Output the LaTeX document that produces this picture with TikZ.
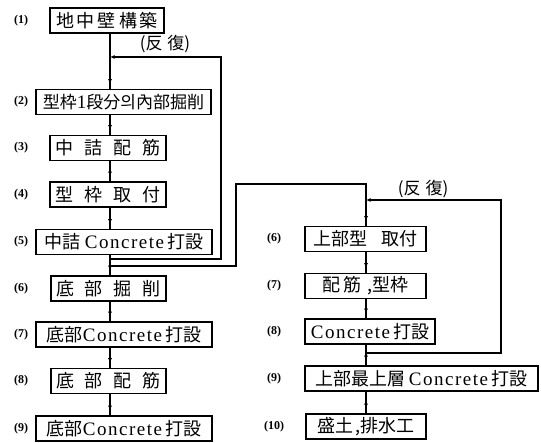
\documentclass[tikz,border=0pt]{standalone}
\usepackage{fontspec}
\setmainfont{Liberation Serif}
\newfontfamily\cjk{Noto Sans CJK JP}
\newfontfamily\latfont[LetterSpace=8]{Liberation Serif}
\newcommand\latn[1]{{\latfont\fontsize{19}{19}\selectfont #1}}
\usetikzlibrary{arrows.meta,decorations.markings}
\tikzset{
  box/.style={draw, line width=1.5pt, minimum height=25pt, inner sep=1pt,
              font=\cjk\fontsize{18}{18}\selectfont, anchor=center},
  lbl/.style={font=\bfseries\fontsize{12}{12}\selectfont},
  rep/.style={font=\cjk\fontsize{17}{17}\selectfont},
  conn/.style={line width=1.2pt},
  tipend/.style={postaction={decorate}, decoration={markings,
      mark=at position -5pt with {\arrow{Latex[length=4.5pt,width=4pt]}}}},
  tipl/.style={-{Latex[length=4.5pt,width=4pt]}}
}
\begin{document}
\begin{tikzpicture}[x=1pt,y=-1pt]
\useasboundingbox (0,0) rectangle (541,443);
% left column
\node[box, minimum width=114pt] (b1) at (107,20.5) {地\hspace{3pt}中\hspace{3pt}壁\hspace{3pt}構\hspace{3pt}築};
\node[box, minimum width=175pt, font=\cjk\fontsize{17}{17}\selectfont] (b2) at (123.5,102) {型枠{\latn{1}}段分의內部掘削};
\node[box, minimum width=116pt] (b3) at (108,148) {中\hspace{11pt}詰\hspace{11pt}配\hspace{11pt}筋};
\node[box, minimum width=116pt] (b4) at (108,194.5) {型\hspace{11pt}枠\hspace{11pt}取\hspace{11pt}付};
\node[box, minimum width=176pt] (b5) at (124,242) {中詰\hspace{4pt}\latn{Concrete}\hspace{3pt}打設};
\node[box, minimum width=115pt] (b6) at (108.5,288.5) {底\hspace{11pt}部\hspace{11pt}掘\hspace{11pt}削};
\node[box, minimum width=176pt] (b7) at (124,334.5) {底部\latn{Concrete}\hspace{3pt}打設};
\node[box, minimum width=115pt] (b8) at (108.5,381) {底\hspace{11pt}部\hspace{11pt}配\hspace{11pt}筋};
\node[box, minimum width=176pt] (b9) at (124,428.5) {底部\latn{Concrete}\hspace{3pt}打設};
% right column
\node[box, minimum width=121pt] (r6) at (365.5,239) {上部型\hspace{14pt}取付};
\node[box, minimum width=121pt] (r7) at (365.5,286) {配\hspace{3pt}筋\hspace{6pt},型枠};
\node[box, minimum width=130pt] (r8) at (370,331.5) {\latn{Concrete}\hspace{3pt}打設};
\node[box, minimum width=233pt] (r9) at (421.5,378.5) {上部最上層\hspace{3pt}\latn{Concrete}\hspace{3pt}打設};
\node[box, minimum width=120pt] (r10) at (366,426.5) {盛土\hspace{3pt},排水工};
% labels
\node[lbl] (n1) at (21,20.5) {(1)};
\node[lbl] (n2) at (21,102) {(2)};
\node[lbl] (n3) at (21,148) {(3)};
\node[lbl] (n4) at (21,194.5) {(4)};
\node[lbl] (n5) at (21,242) {(5)};
\node[lbl] (n6) at (21,288.5) {(6)};
\node[lbl] (n7) at (21,334.5) {(7)};
\node[lbl] (n8) at (21,381) {(8)};
\node[lbl] (n9) at (21,428.5) {(9)};
\node[lbl] (m6) at (274,239) {(6)};
\node[lbl] (m7) at (274,286) {(7)};
\node[lbl] (m8) at (274,331.5) {(8)};
\node[lbl] (m9) at (274,378.5) {(9)};
\node[lbl] (m10) at (274,426.5) {(10)};
% repeat texts
\node[rep] (rp1) at (165,44) {(反\hspace{5pt}復)};
\node[rep] (rp2) at (423,189) {(反\hspace{5pt}復)};
% spines
\coordinate (sp) at (110,0);
\coordinate (rs) at (366,0);
\draw[conn,tipend] (b1.south -| sp) -- (b2.north -| sp);
\draw[conn,tipend] (b2.south -| sp) -- (b3.north -| sp);
\draw[conn,tipend] (b3.south -| sp) -- (b4.north -| sp);
\draw[conn,tipend] (b4.south -| sp) -- (b5.north -| sp);
\draw[conn,tipend] (b5.south -| sp) -- (b6.north -| sp);
\draw[conn,tipend] (b6.south -| sp) -- (b7.north -| sp);
\draw[conn,tipend] (b7.south -| sp) -- (b8.north -| sp);
\draw[conn,tipend] (b8.south -| sp) -- (b9.north -| sp);
\draw[conn,tipend] (r6.south -| rs) -- (r7.north -| rs);
\draw[conn,tipend] (r7.south -| rs) -- (r8.north -| rs);
\draw[conn,tipend] (r8.south -| rs) -- (r9.north -| rs);
\draw[conn,tipend] (r9.south -| rs) -- (r10.north -| rs);
% left repeat loop
\coordinate (la) at (110,259);
\coordinate (lb) at (221,259);
\coordinate (lc) at (221,57);
\coordinate (ld) at (110,57);
\draw[conn,tipl] (la) -- (lb) -- (lc) -- (ld);
% outer connection to right column
\coordinate (oa) at (110,266);
\coordinate (ob) at (236,266);
\coordinate (oc) at (236,184);
\coordinate (od) at (366,184);
\draw[conn,tipend] (oa) -- (ob) -- (oc) -- (od) -- (r6.north -| rs);
% right repeat loop
\coordinate (ra) at (366,353);
\coordinate (rb) at (501,353);
\coordinate (rc) at (501,200);
\coordinate (rd) at (366,200);
\draw[conn,tipl] (ra) -- (rb) -- (rc) -- (rd);
\end{tikzpicture}
\end{document}
